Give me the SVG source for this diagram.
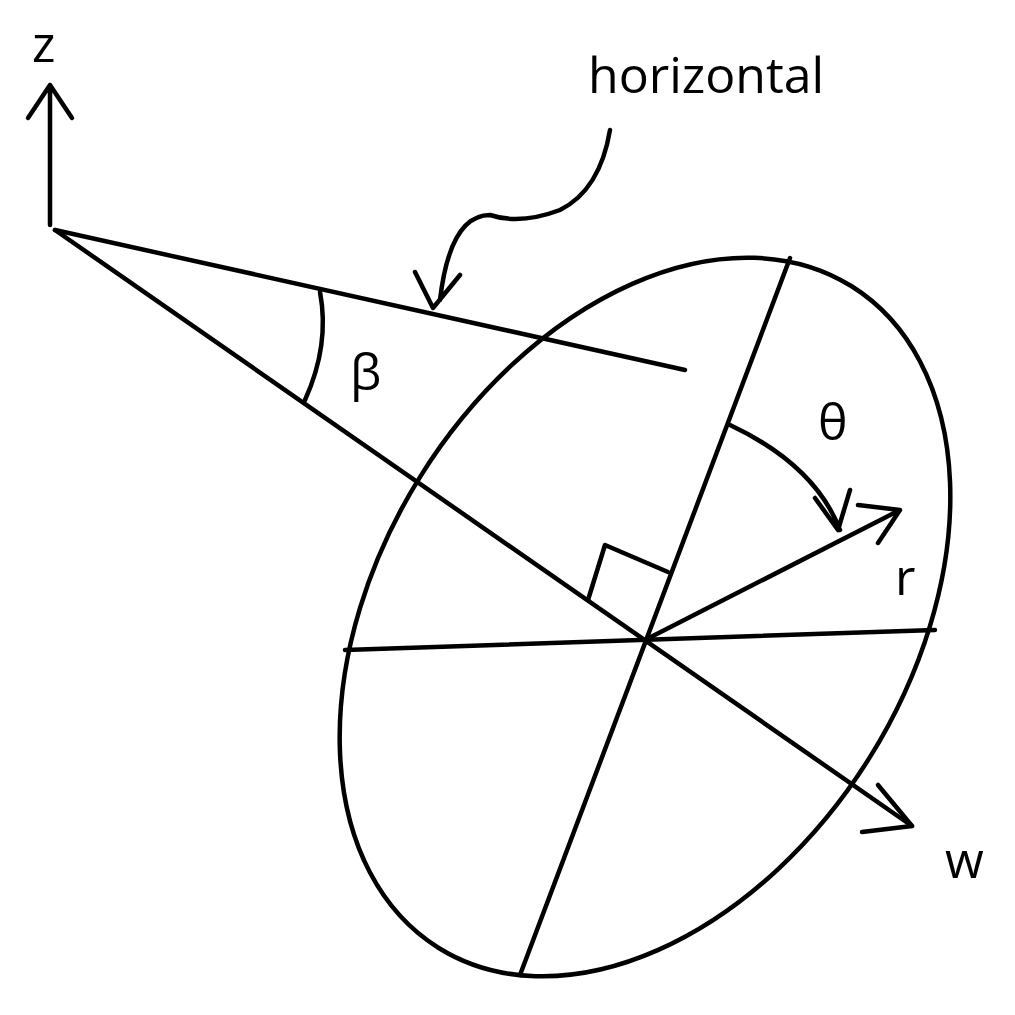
<svg xmlns="http://www.w3.org/2000/svg" width="1015" height="1015" viewBox="0 0 1015 1015">
<style>
.l{fill:none;stroke:#000;stroke-width:4.5;stroke-linecap:round;stroke-linejoin:round}
text{font-family:"Open Sans","DejaVu Sans",sans-serif;fill:#000}
</style>
<rect width="1015" height="1015" fill="#fff"/>
<g id="disk"><ellipse class="l" cx="645" cy="617" rx="390" ry="265" transform="rotate(-58 645 617)"/></g>
<g id="connectors">
<path class="l" d="M345,650 L935,630"/>
<path class="l" d="M790,258 L520,975"/>
<path class="l" d="M55,230 L912,826"/>
<path class="l" d="M878,785 L912,826 L862,832"/>
<path class="l" d="M55,230 L685,370"/>
<path class="l" d="M50,225 L50,85 M28,118 L50,85 L72,118"/>
<path class="l" d="M645,640 L900,510 M858,505 L900,510 L878,543"/>
<path class="l" d="M588,600 L605,545 L668,572"/>
<path class="l" d="M730,425 Q815,465 840,530 M815,498 L838,530 L850,490"/>
<path class="l" d="M320,292 Q330,345 305,400"/>
<path class="l" d="M610,130 Q600,190 560,210 Q520,225 490,215 Q450,215 440,300 M415,272 L433,308 L460,275"/>
</g>
<g id="labels" font-size="50">
<text x="32" y="62">z</text>
<text x="588" y="93">horizontal</text>
<text x="350" y="390">β</text>
<text x="818" y="440">θ</text>
<text x="895" y="595">r</text>
<text x="945" y="878">w</text>
</g>
</svg>
